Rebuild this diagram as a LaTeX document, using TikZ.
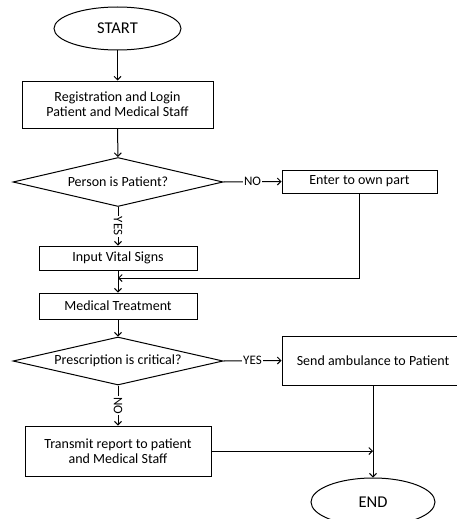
\documentclass[tikz,border=0pt]{standalone}
\usepackage{fontspec}
\setmainfont{Carlito}
\usetikzlibrary{shapes.geometric,arrows.meta}

\tikzset{
  term/.style={draw, ellipse, inner sep=0pt, font=\fontsize{16.5}{18}\selectfont},
  proc/.style={draw, rectangle, align=center, inner sep=0pt},
  decide/.style={draw, diamond, aspect=4.3, inner sep=0pt},
  lbl/.style={fill=white, inner sep=1pt, font=\fontsize{13}{14}\selectfont},
  flow/.style={-{Straight Barb[length=3.5pt,width=7pt]}}
}

\begin{document}
\begin{tikzpicture}[x=1pt,y=-1pt,line width=1pt,font=\fontsize{14}{15}\selectfont]
      \useasboundingbox (0,0) rectangle (456,519);
      % left column
      \node [term, minimum width=127pt, minimum height=43pt] (start) at (117.5,28.5) {START};
      \node [proc, minimum width=191pt, minimum height=47pt] (reg) at (117.5,104.5) {Registration and Login\\Patient and Medical Staff};
      \node [decide, minimum width=210pt, minimum height=49pt] (pat) at (118,182) {Person is Patient?};
      \node [proc, minimum width=158pt, minimum height=24pt] (vital) at (118,258) {Input Vital Signs};
      \node [proc, minimum width=158pt, minimum height=26pt] (treat) at (118,306) {Medical Treatment};
      \node [decide, minimum width=210pt, minimum height=48pt] (crit) at (118,361) {Prescription is critical?};
      \node [proc, minimum width=186pt, minimum height=50pt] (trans) at (118,451) {Transmit report to patient\\and Medical Staff};
      % right column
      \node [proc, minimum width=155pt, minimum height=23pt] (enter) at (359.5,181.5) {Enter to own part};
      \node [proc, minimum width=182pt, minimum height=49pt] (amb) at (373,360.5) {Send ambulance to Patient};
      \node [term, minimum width=124pt, minimum height=48pt] (finish) at (373,502) {END};
      \coordinate (join) at (118,278);
      \coordinate (meet) at (amb.south |- trans.east);

      \draw [flow] (start) -- (reg);
      \draw [flow] (reg) -- (pat);
      \draw [flow] (pat.east) -- node [lbl] {NO} (enter.west);
      \draw [flow] (pat.south) -- node [lbl,rotate=-90] {YES} (vital.north);
      \draw [flow] (vital) -- (treat);
      \draw [flow] (enter.south) |- (join);
      \draw [flow] (treat) -- (crit);
      \draw [flow] (crit.east) -- node [lbl] {YES} (amb.west);
      \draw [flow] (crit.south) -- node [lbl,rotate=-90] {NO} (trans.north);
      \draw [flow] (trans.east) -- (meet);
      \draw [flow] (amb.south) -- (finish.north);
    \end{tikzpicture}
\end{document}
